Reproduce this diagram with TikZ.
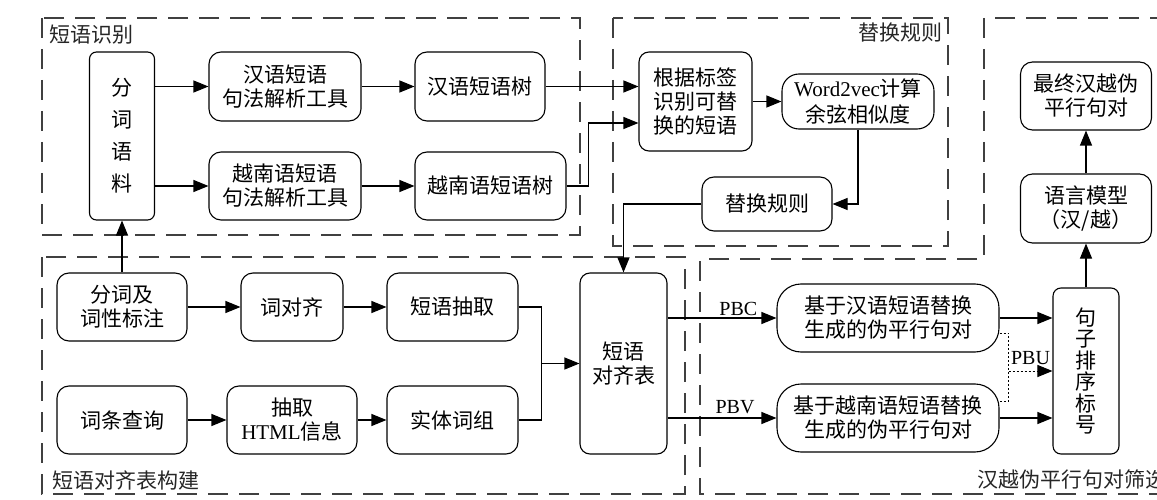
\documentclass[tikz,border=0pt]{standalone}
\usepackage{fontspec}
\setmainfont{Liberation Serif}
\newfontfamily\cjk{Noto Sans CJK SC}
\usetikzlibrary{arrows.meta,calc}
\begin{document}
\begin{tikzpicture}[x=1pt,y=-1pt,
  box/.style={draw=black, line width=1.1pt, rounded corners=12pt, align=center, inner sep=0pt, font=\cjk\fontsize{21}{24}\selectfont},
  arr/.style={line width=1.1pt, -{Triangle[length=15pt,width=12pt]}},
  ln/.style={line width=1.1pt},
  dot/.style={line width=1pt, dash pattern=on 2pt off 2pt},
  dotarr/.style={dot, -{Triangle[length=15pt,width=12pt]}},
  grp/.style={draw=black!75, line width=1.3pt, dash pattern=on 20pt off 11pt},
  glabel/.style={font=\cjk\fontsize{21}{24}\selectfont, inner sep=0pt, text=black!85},
  lab/.style={font=\fontsize{20}{24}\selectfont, inner sep=2pt}]
\useasboundingbox (0,0) rectangle (1157,500);
\clip (0,0) rectangle (1157,500);

% groups
\draw[grp] (42,18) rectangle (580,235);
\draw[grp] (613,18) rectangle (948,246);
\draw[grp] (42,257) rectangle (685,494);
\draw[grp] (1170,18) -- (984,18) -- (984,259) -- (700,259) -- (700,494) -- (1170,494);

\node[glabel, anchor=west] (g1) at (49,35) {短语识别};
\node[glabel, anchor=east] (g2) at (943,33) {替换规则};
\node[glabel, anchor=west] (g3) at (52,480) {短语对齐表构建};
\node[glabel, anchor=west] (g4) at (977,480) {汉越伪平行句对筛选};

% nodes
\node[box, rounded corners=7pt, minimum width=65pt, minimum height=168pt] (corpus) at (122,136) {分\\[8pt]词\\[8pt]语\\[8pt]料};
\node[box, minimum width=152pt, minimum height=69pt] (cparse) at (285,86.5) {汉语短语\\句法解析工具};
\node[box, minimum width=152pt, minimum height=68pt] (vparse) at (285,186) {越南语短语\\句法解析工具};
\node[box, minimum width=130pt, minimum height=69pt] (ctree) at (480,86.5) {汉语短语树};
\node[box, minimum width=151pt, minimum height=68pt] (vtree) at (490.5,186) {越南语短语树};
\node[box, rounded corners=10pt, minimum width=113pt, minimum height=99pt] (gen) at (695.5,101.5) {根据标签\\识别可替\\换的短语};
\node[box, rounded corners=17pt, minimum width=152pt, minimum height=55pt] (w2v) at (858,101.5) {\textrm{Word2vec}计算\\[2pt]余弦相似度};
\node[box, minimum width=130pt, minimum height=54pt] (rule) at (767,204) {替换规则};
\node[box, minimum width=131pt, minimum height=68pt] (final) at (1086,96) {最终汉越伪\\平行句对};
\node[box, minimum width=131pt, minimum height=69pt] (lm) at (1086,208.5) {语言模型\\（汉/越）};

\node[box, minimum width=130pt, minimum height=68pt] (seg) at (122,307) {分词及\\词性标注};
\node[box, minimum width=102pt, minimum height=68pt] (align) at (292,307) {词对齐};
\node[box, minimum width=131pt, minimum height=68pt] (extract) at (452.5,307) {短语抽取};
\node[box, minimum width=130pt, minimum height=68pt] (lookup) at (122,420) {词条查询};
\node[box, minimum width=130pt, minimum height=68pt] (html) at (292,420) {抽取\\\textrm{HTML}信息};
\node[box, minimum width=131pt, minimum height=68pt] (entity) at (452.5,420) {实体词组};
\node[box, rounded corners=10pt, minimum width=87pt, minimum height=181pt] (table) at (623.5,363.5) {短语\\对齐表};
\node[box, rounded corners=24pt, minimum width=222pt, minimum height=68pt] (cn) at (888,318) {基于汉语短语替换\\生成的伪平行句对};
\node[box, rounded corners=24pt, minimum width=222pt, minimum height=68pt] (vn) at (888,418) {基于越南语短语替换\\生成的伪平行句对};
\node[box, rounded corners=8pt, minimum width=66pt, minimum height=166pt, font=\cjk\fontsize{21}{21.5}\selectfont] (sort) at (1086,371) {句\\子\\排\\序\\标\\号};

% connectors
\draw[arr] (corpus.east |- cparse.west) -- (cparse.west);
\draw[arr] (corpus.east |- vparse.west) -- (vparse.west);
\draw[arr] (cparse) -- (ctree);
\draw[arr] (vparse) -- (vtree);
\draw[arr] (ctree.east) -- (ctree.east -| gen.west);
\draw[arr] (vtree.east) -- ++(22,0) |- ([yshift=-21.5pt]gen.west);
\draw[arr] (gen) -- (w2v);
\draw[arr] (w2v.south) |- (rule.east);
\draw[arr] (rule.west) -| (table.north);
\draw[arr] (seg) -- (corpus);
\draw[arr] (seg) -- (align);
\draw[arr] (align) -- (extract);
\draw[arr] (lookup) -- (html);
\draw[arr] (html) -- (entity);
\draw[ln] (extract.east) -- ++(23,0) coordinate (m1) |- (entity.east);
\draw[arr] (m1 |- table.west) -- (table.west);
\draw[arr] (table.east |- cn.west) -- node[lab, pos=0.65, above] {PBC} (cn.west);
\draw[arr] (table.east |- vn.west) -- node[lab, pos=0.62, above, yshift=2pt] {PBV} (vn.west);
\draw[arr] (cn.east) -- (cn.east -| sort.west);
\draw[arr] (vn.east) -- (vn.east -| sort.west);
\draw[dot] ([yshift=-15pt]cn.east) -- ++(9,0) coordinate (d1) |- ([yshift=17pt]vn.east);
\draw[dotarr] (d1 |- sort.west) -- node[lab, above, yshift=4pt] {PBU} (sort.west);
\draw[arr] (sort) -- (lm);
\draw[arr] (lm) -- (final);
\end{tikzpicture}
\end{document}
